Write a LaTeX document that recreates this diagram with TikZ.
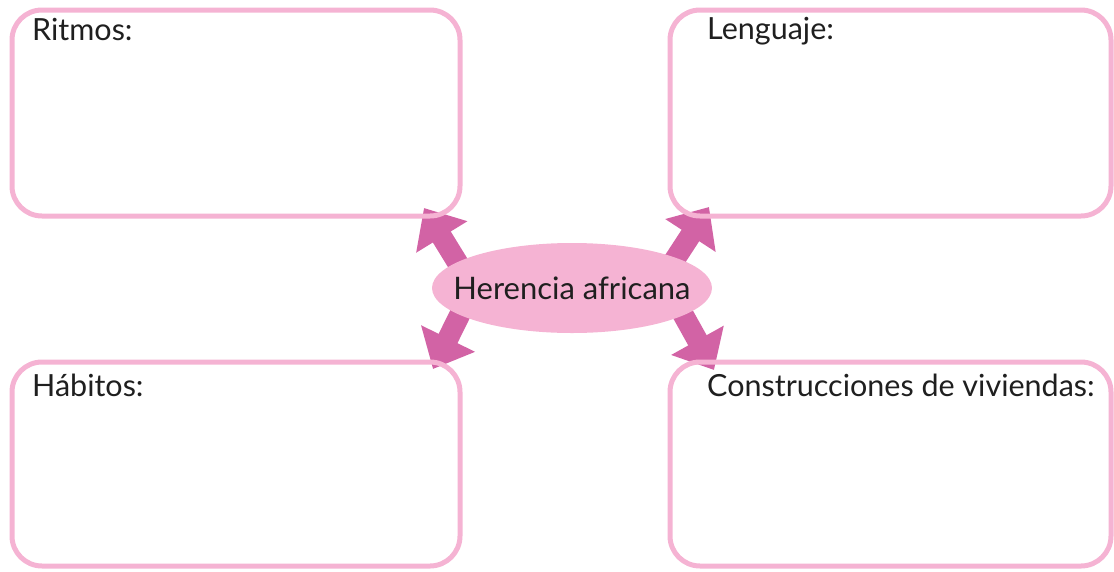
\documentclass[tikz,border=0pt]{standalone}
\usepackage{fontspec}
\setmainfont{Lato}
\usetikzlibrary{shapes.geometric,arrows.meta}
\definecolor{rosa}{HTML}{F5B3D3}
\definecolor{rosafuerte}{HTML}{D263A5}
\begin{document}
\begin{tikzpicture}
  [x=1pt, y=-1pt,
   caja/.style={draw=rosa, line width=5pt, rounded corners=30pt, minimum width=448pt, minimum height=206pt, inner sep=0pt},
   titulo/.style={anchor=base west, inner sep=0pt, text=black!88, font=\fontsize{30.5}{36}\selectfont},
   centro/.style={ellipse, fill=rosa, minimum width=280pt, minimum height=90pt, inner sep=0pt, text=black!88, font=\fontsize{31}{36}\selectfont},
   flecha/.style={draw=rosafuerte, line width=21pt, -{Triangle[width=58pt,length=34pt]}}]

  \useasboundingbox (0,0) rectangle (1114,571);

  % Extremos de las flechas
  \coordinate (a1) at (467,278);   \coordinate (p1) at (424,208);
  \coordinate (a2) at (664,276);   \coordinate (p2) at (709,207);
  \coordinate (a3) at (468,298);   \coordinate (p3) at (433,369);
  \coordinate (a4) at (675,300);   \coordinate (p4) at (714,370);

  % Flechas (debajo de las cajas)
  \foreach \from/\to in {a1/p1, a2/p2, a3/p3, a4/p4}
    \draw[flecha] (\from) -- (\to);

  % Cajas
  \node[caja] (ritmos) at (236,113) {};
  \node[caja, minimum width=441pt] (lenguaje) at (890.5,113) {};
  \node[caja, minimum height=204pt] (habitos) at (236,464) {};
  \node[caja, minimum width=441pt, minimum height=204pt] (viviendas) at (890.5,464) {};

  % Títulos
  \node[titulo] (tritmos) at (32,40) {Ritmos:};
  \node[titulo] (tlenguaje) at (707,39) {Lenguaje:};
  \node[titulo] (thabitos) at (32,396) {Hábitos:};
  \node[titulo] (tviviendas) at (707,396) {Construcciones de viviendas:};

  % Centro
  \node[centro] (herencia) at (572,288) {\makebox[0pt]{Herencia africana}};
\end{tikzpicture}
\end{document}
